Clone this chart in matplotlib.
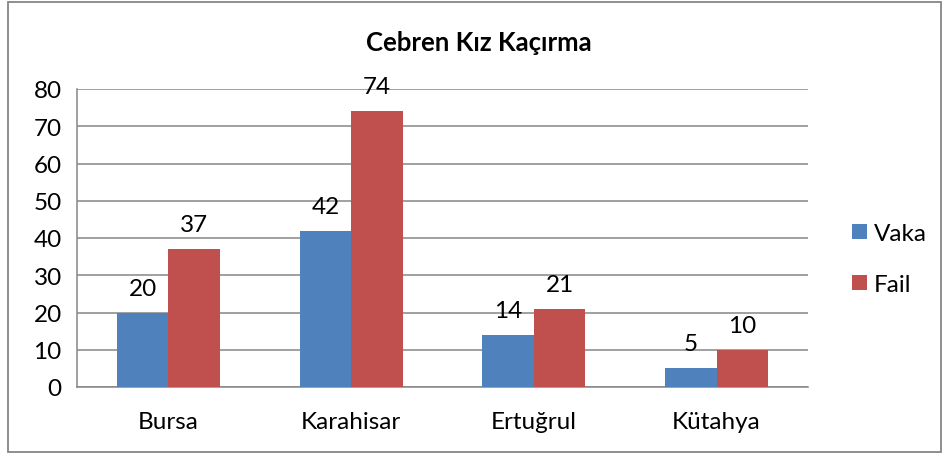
import matplotlib
matplotlib.use("Agg")
import matplotlib.pyplot as plt
import numpy as np
from matplotlib.patches import Rectangle

categories = ["Bursa", "Karahisar", "Ertuğrul", "Kütahya"]
vaka = [20, 42, 14, 5]
fail = [37, 74, 21, 10]
series_names = ["Vaka", "Fail"]
title = "Cebren Kız Kaçırma"

plt.rcParams['font.family'] = ['Lato', 'DejaVu Sans']

W, H = 944, 456
fig = plt.figure(figsize=(W/100, H/100), dpi=100)
fig.patch.set_facecolor('white')

# outer chart border
fig.add_artist(Rectangle((8/W, 3/H), (941-8)/W, (453-3)/H, transform=fig.transFigure,
                         fill=False, edgecolor='#868686', linewidth=1.3))

left, right, top, bottom = 77, 808, 90, 388
ax = fig.add_axes([left/W, 1-bottom/H, (right-left)/W, (bottom-top)/H])

x = np.arange(len(categories))
bw = 0.282
blue = '#4F81BD'
red = '#C0504D'
fs = 17.5
b1 = ax.bar(x - bw/2, vaka, bw, color=blue, label=series_names[0], zorder=3)
b2 = ax.bar(x + bw/2, fail, bw, color=red, label=series_names[1], zorder=3)

for bars, vals in ((b1, vaka), (b2, fail)):
    for r, v in zip(bars, vals):
        ax.annotate(str(v), (r.get_x() + r.get_width()/2, v), xytext=(0, 10),
                    textcoords='offset points', ha='center', va='bottom', fontsize=fs)

ax.set_xlim(-0.5, len(categories) - 0.5)
ax.set_ylim(0, 80)
ax.set_yticks(np.arange(0, 81, 10))
ax.set_xticks(x)
ax.set_xticklabels(categories)
ax.tick_params(axis='both', length=0, labelsize=fs)
ax.tick_params(axis='y', pad=11)
ax.tick_params(axis='x', pad=17)
ax.yaxis.grid(True, color='#868686', linewidth=1.1, zorder=0)
for s in ['top', 'right']:
    ax.spines[s].set_visible(False)
for s in ['left', 'bottom']:
    ax.spines[s].set_color('#868686')
    ax.spines[s].set_linewidth(1.1)

fig.text(479/W, 1-43/H, title, ha='center', va='center', fontsize=18.5, fontweight='bold')

leg = fig.legend(handles=[b1, b2], labels=series_names, loc='center left',
                 bbox_to_anchor=(840/W, 1-260/H), frameon=False, fontsize=fs,
                 handlelength=0.6, handleheight=0.6, handletextpad=0.3, labelspacing=1.24,
                 borderpad=0)

fig.savefig('out.png', dpi=100, facecolor='white')
